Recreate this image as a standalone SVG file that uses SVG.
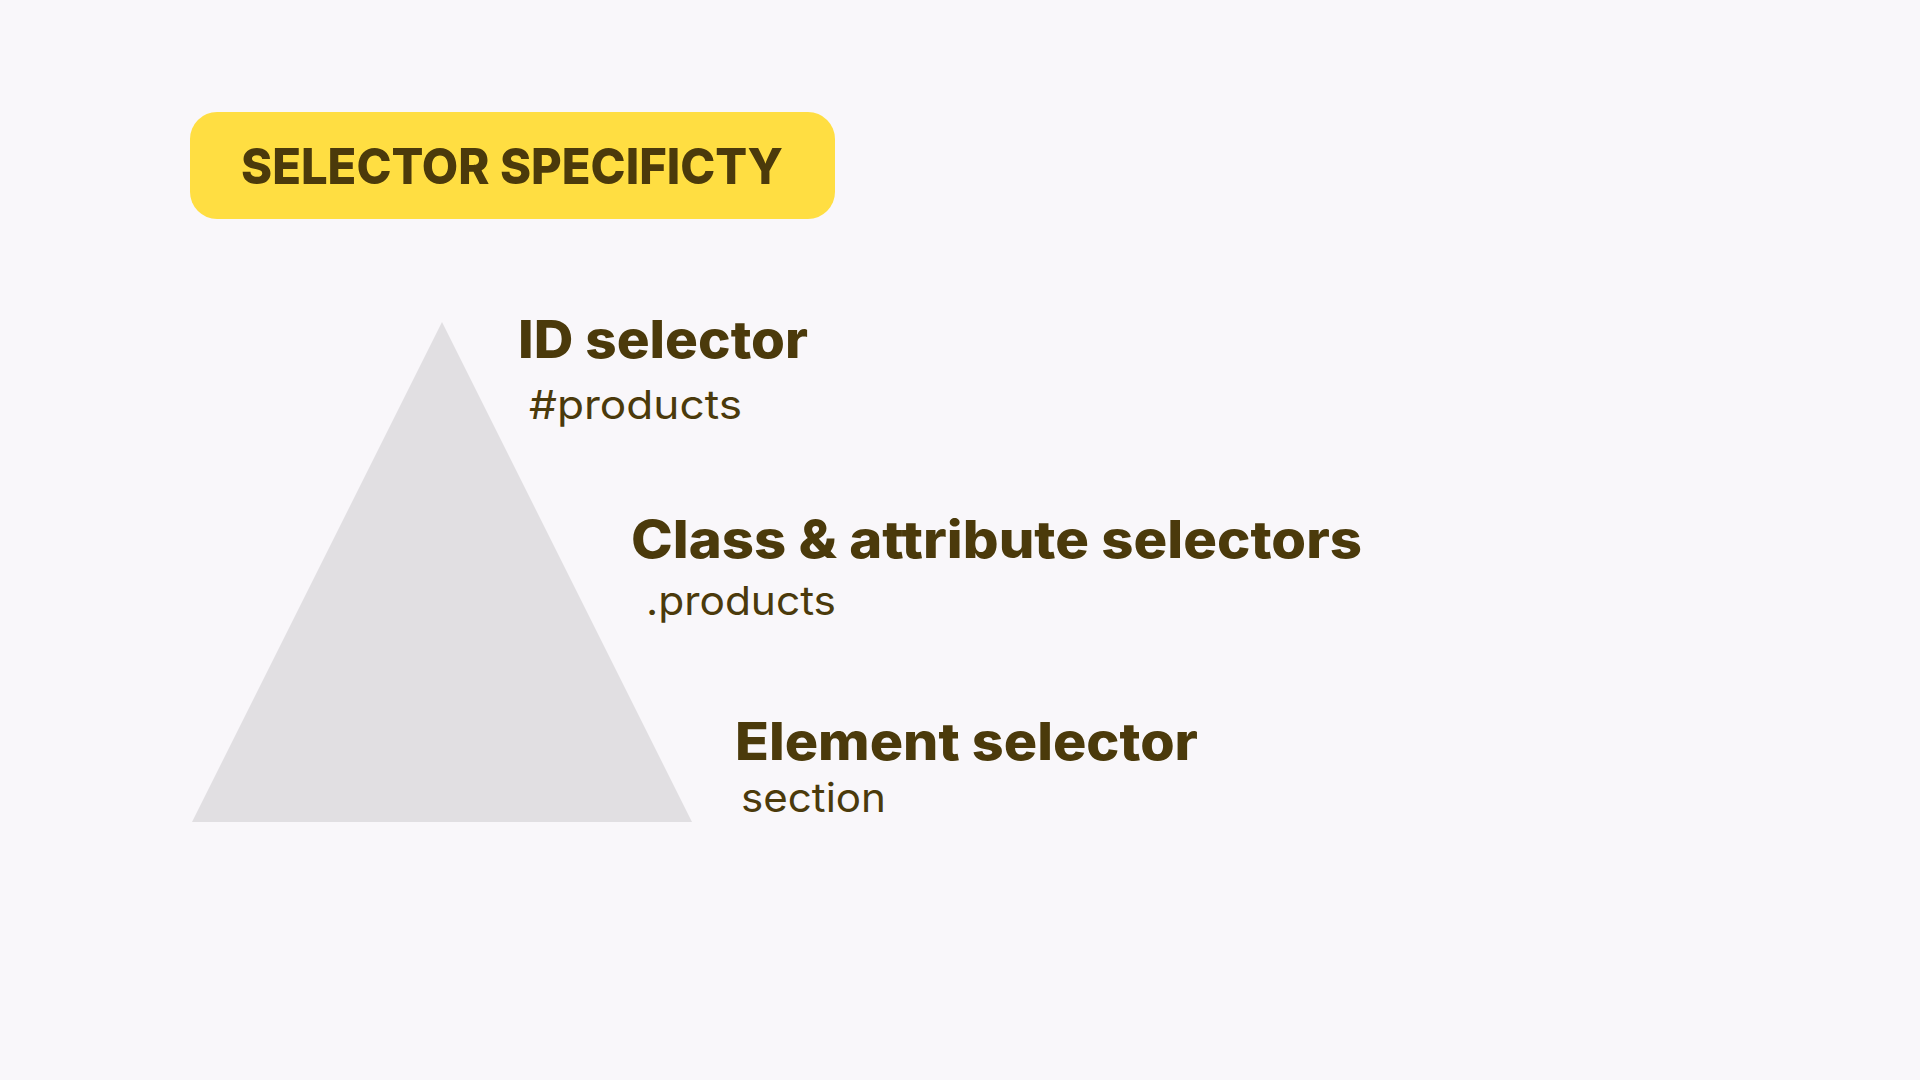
<svg xmlns="http://www.w3.org/2000/svg" width="1920" height="1080" viewBox="0 0 1920 1080">
  <style>
    .bg { fill: #f9f7fa; }
    .badge { fill: #ffde42; }
    .pyramid { fill: #e1dfe2; }
    .title { font-family: Inter, "Open Sans", "Liberation Sans", sans-serif; font-weight: 800; font-size: 50px; fill: #4b3a0b; }
    .head { font-family: Inter, "Open Sans", "Liberation Sans", sans-serif; font-weight: 800; font-size: 52px; fill: #4b3a0b; }
    .sub { font-family: Inter, "Open Sans", "Liberation Sans", sans-serif; font-weight: 400; font-size: 40px; fill: #4b3a0b; }
  </style>
  <rect class="bg" x="0" y="0" width="1920" height="1080"/>

  <g id="badge">
    <rect class="badge" x="190" y="112" width="645" height="107" rx="27" ry="27"/>
    <text class="title" x="241" y="184" textLength="542" lengthAdjust="spacingAndGlyphs">SELECTOR SPECIFICTY</text>
  </g>

  <g id="pyramid">
    <polygon class="pyramid" points="442,322 692,822 192,822"/>
  </g>

  <g id="level-id">
    <text class="head" x="518" y="358" textLength="290" lengthAdjust="spacingAndGlyphs">ID selector</text>
    <text class="sub" x="529" y="419" textLength="213" lengthAdjust="spacingAndGlyphs">#products</text>
  </g>

  <g id="level-class">
    <text class="head" x="631" y="558" textLength="731" lengthAdjust="spacingAndGlyphs">Class &amp; attribute selectors</text>
    <text class="sub" x="646" y="615" textLength="190" lengthAdjust="spacingAndGlyphs">.products</text>
  </g>

  <g id="level-element">
    <text class="head" x="735" y="760" textLength="463" lengthAdjust="spacingAndGlyphs">Element selector</text>
    <text class="sub" x="741" y="812" textLength="145" lengthAdjust="spacingAndGlyphs">section</text>
  </g>

  <g id="connectors"/>
</svg>
